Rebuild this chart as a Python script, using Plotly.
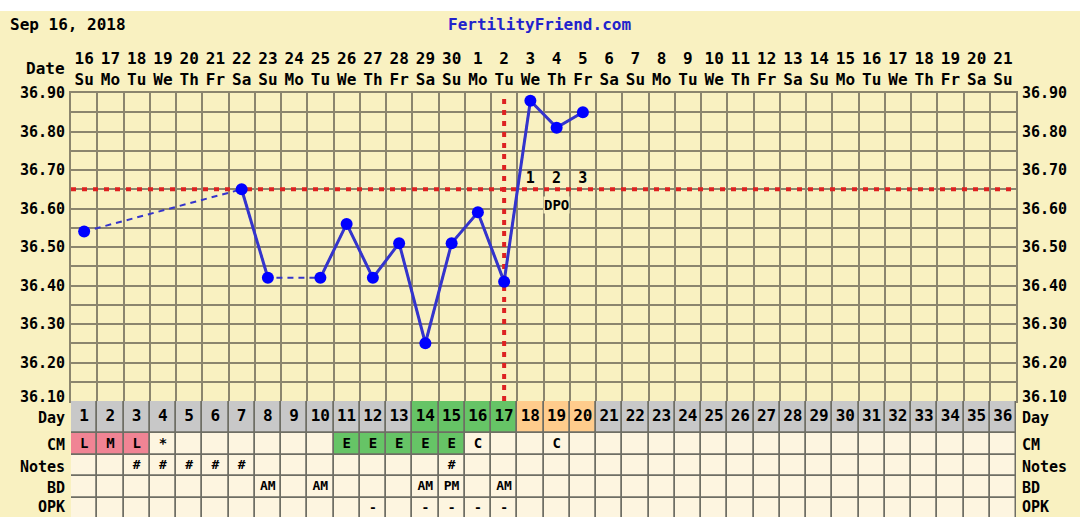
import plotly.graph_objects as go

# ---- data ----
days = list(range(1, 37))
date_nums = ["16", "17", "18", "19", "20", "21", "22", "23", "24", "25", "26", "27", "28", "29", "30",
             "1", "2", "3", "4", "5", "6", "7", "8", "9", "10", "11", "12", "13", "14", "15",
             "16", "17", "18", "19", "20", "21"]
weekdays = ["Su", "Mo", "Tu", "We", "Th", "Fr", "Sa"] * 5 + ["Su"]

temp_days = list(range(1, 21))
temps = [36.54, None, None, None, None, None, 36.65, 36.42, None, 36.42,
         36.56, 36.42, 36.51, 36.25, 36.51, 36.59, 36.41, 36.88, 36.81, 36.85]

coverline = 36.65
ovulation_day = 17
dpo_days = [18, 19, 20]
dpo_labels = ["1", "2", "3"]

y_ticks = [36.10, 36.15, 36.20, 36.25, 36.30, 36.35, 36.40, 36.45, 36.50,
           36.55, 36.60, 36.65, 36.70, 36.75, 36.80, 36.85, 36.90]
y_labels = ["36.10", "", "36.20", "", "36.30", "", "36.40", "", "36.50",
            "", "36.60", "", "36.70", "", "36.80", "", "36.90"]

row_names = ["Day", "CM", "Notes", "BD", "OPK"]

# phase of each cycle day: g = normal, f = fertile, p = post-ovulation
day_phase = ["g"] * 13 + ["f", "f", "f", "f", "p", "p", "p"] + ["g"] * 16

cm_text = ["L", "M", "L", "*", "", "", "", "", "", "", "E", "E", "E", "E", "E", "C", "", "", "C"] + [""] * 17
cm_kind = ["m", "m", "m", "", "", "", "", "", "", "", "e", "e", "e", "e", "e", "", "", "", ""] + [""] * 17
notes_text = ["", "", "#", "#", "#", "#", "#", "", "", "", "", "", "", "", "#"] + [""] * 21
bd_text = ["", "", "", "", "", "", "", "AM", "", "AM", "", "", "", "AM", "PM", "", "AM"] + [""] * 19
opk_text = ["", "", "", "", "", "", "", "", "", "", "", "-", "", "-", "-", "-", "-"] + [""] * 19

# ---- styling ----
BG = "#F9F1C1"
CELL = "#FDF5E0"
GRID = "#8B856E"
BORDER = "#6E6E64"
FONT = "DejaVu Sans Mono"
phase_colors = {"g": "#C8C8C8", "f": "#66C466", "p": "#FFCC8C"}
cm_colors = {"m": "#F08494", "e": "#66C466", "": CELL}

row_heights = [32, 22, 21, 22, 22]
row_tops = [0, 32, 54, 75, 97]
row_centers = [t + h / 2 for t, h in zip(row_tops, row_heights)]
row_sizes = [16, 14, 13, 13, 13]
row_label_shift = [-1, -1, -1, -1, 2]
table_px = 116
plot_px = 424


def bold(size, color="black"):
    return dict(family=FONT, size=size, color=color, weight="bold")


fig = go.Figure()

# table rows drawn as bars on the lower axis
row_text = [[str(d) for d in days], cm_text, notes_text, bd_text, opk_text]
row_fill = [[phase_colors[p] for p in day_phase],
            [cm_colors[k] for k in cm_kind],
            [CELL] * 36, [CELL] * 36, [CELL] * 36]
for i, name in enumerate(row_names):
    fig.add_trace(go.Bar(
        x=days, y=[row_heights[i]] * 36, base=[row_tops[i]] * 36,
        width=1, yaxis="y2",
        marker=dict(color=row_fill[i], line=dict(color=BORDER, width=1.5)),
        hoverinfo="skip", showlegend=False,
    ))
    fig.add_trace(go.Scatter(
        x=days, y=[row_centers[i]] * 36, yaxis="y2", mode="text",
        text=row_text[i], textfont=bold(row_sizes[i]),
        hoverinfo="skip", showlegend=False,
    ))

# cover line and ovulation line
fig.add_trace(go.Scatter(
    x=[0.5, 36.5], y=[coverline, coverline], mode="lines",
    line=dict(color="#DD2222", width=4, dash="5px,6px"),
    hoverinfo="skip", showlegend=False,
))
fig.add_trace(go.Scatter(
    x=[ovulation_day, ovulation_day], y=[36.10, 36.90], mode="lines",
    line=dict(color="#DD2222", width=4, dash="5px,6px"),
    hoverinfo="skip", showlegend=False,
))

# temperatures: dashed across gaps, solid where consecutive
fig.add_trace(go.Scatter(
    x=temp_days, y=temps, mode="lines", connectgaps=True,
    line=dict(color="#3434CC", width=2, dash="6px,5px"),
    hoverinfo="skip", showlegend=False,
))
fig.add_trace(go.Scatter(
    x=temp_days, y=temps, mode="lines+markers", connectgaps=False,
    line=dict(color="#3434CC", width=3),
    marker=dict(color="#0000FF", size=12),
    showlegend=False,
))

# DPO labels
fig.add_trace(go.Scatter(
    x=dpo_days, y=[coverline + 0.025] * 3, mode="text", text=dpo_labels,
    textfont=bold(15), hoverinfo="skip", showlegend=False,
))
fig.add_annotation(
    x=dpo_days[1], y=coverline - 0.042, text="DPO", showarrow=False,
    font=bold(14), bgcolor=BG, borderpad=0,
)

# temperature labels on both sides (bottom one nudged up off the table)
for v, t in zip(y_ticks, y_labels):
    if t:
        shift = 4 if v == y_ticks[0] else 0
        fig.add_annotation(x=1.004, y=v, xref="paper", yref="y", text=t, showarrow=False,
                           xanchor="left", yanchor="middle", yshift=shift, font=bold(15))
        fig.add_annotation(x=-0.004, y=v, xref="paper", yref="y", text=t, showarrow=False,
                           xanchor="right", yanchor="middle", yshift=shift, font=bold(15))
# row labels on both sides
for c, t, s in zip(row_centers, row_names, row_label_shift):
    fig.add_annotation(x=1.004, y=c, xref="paper", yref="y2", text=t, showarrow=False,
                       xanchor="left", yanchor="middle", yshift=s, font=bold(15))
    fig.add_annotation(x=-0.004, y=c, xref="paper", yref="y2", text=t, showarrow=False,
                       xanchor="right", yanchor="middle", yshift=s, font=bold(15))

# header texts
fig.add_annotation(x=-0.067, y=(517 - 25) / plot_px, xref="paper", yref="paper", text="Sep 16, 2018",
                   showarrow=False, xanchor="left", yanchor="middle", font=bold(16))
fig.add_annotation(x=0.496, y=(517 - 25) / plot_px, xref="paper", yref="paper", text="FertilityFriend.com",
                   showarrow=False, xanchor="center", yanchor="middle", font=bold(16, "#2222CC"))
fig.add_annotation(x=-0.004, y=(517 - 68) / plot_px, xref="paper", yref="paper", text="Date",
                   showarrow=False, xanchor="right", yanchor="middle", font=bold(16))

fig.update_layout(
    width=1080, height=517, autosize=False,
    margin=dict(l=71, r=64, t=93, b=0, pad=0, autoexpand=False),
    paper_bgcolor=BG, plot_bgcolor=BG,
    barmode="overlay", bargap=0,
    xaxis=dict(
        range=[0.5, 36.5], side="top", anchor="y", automargin=False,
        tickmode="array", tickvals=days,
        ticktext=[f"{n}<br>{w}" for n, w in zip(date_nums, weekdays)],
        tickfont=bold(16),
        ticks="", showgrid=False, zeroline=False,
        minor=dict(tickvals=[d - 0.5 for d in days] + [36.5], showgrid=True,
                   gridcolor=GRID, gridwidth=1.5, ticks=""),
        showline=True, linecolor=GRID, linewidth=1.5, mirror=True,
    ),
    yaxis=dict(
        domain=[table_px / plot_px, 1], range=[36.10, 36.90], automargin=False,
        tickmode="array", tickvals=y_ticks, showticklabels=False,
        ticks="", showgrid=True, gridcolor=GRID, gridwidth=1.5, zeroline=False,
        showline=True, linecolor=GRID, linewidth=1.5, mirror=True,
    ),
    yaxis2=dict(
        domain=[0, table_px / plot_px], range=[table_px, 0], anchor="x", automargin=False,
        showticklabels=False, ticks="", showgrid=False, zeroline=False,
    ),
    shapes=[dict(type="rect", xref="paper", yref="paper", x0=-0.08, x1=1.08,
                 y0=(517 - 11) / plot_px, y1=1.25, fillcolor="white", line_width=0, layer="above")],
)

fig.write_html("out.html", config={"displayModeBar": False},
               post_script="document.body.style.margin='0';")
